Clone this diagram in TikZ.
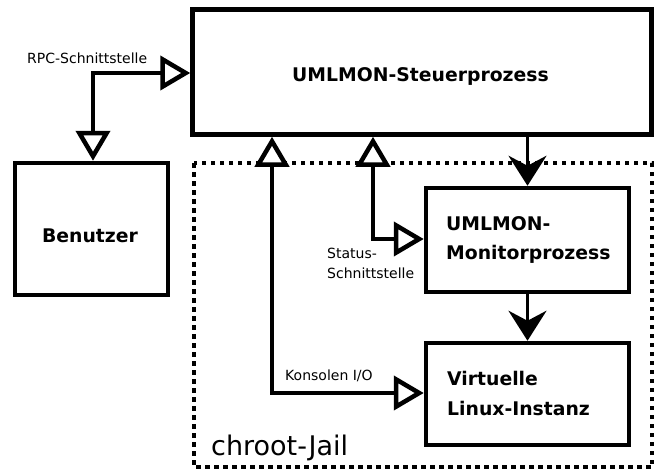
\documentclass[tikz,border=0pt]{standalone}
\usepackage{fontspec}
\setmainfont{DejaVu Sans}
\usetikzlibrary{arrows.meta}
\begin{document}
\begin{tikzpicture}[x=1pt,y=-1pt,
  box/.style={draw,line width=4.5pt,inner sep=0pt},
  bigtext/.style={font=\bfseries\fontsize{18.8}{22}\selectfont,inner sep=0pt},
  smalltext/.style={font=\fontsize{14}{17}\selectfont,inner sep=0pt},
  iface/.style={line width=4.5pt,line join=miter,
     {Triangle[open,fill=white,length=30pt,width=34pt]}-{Triangle[open,fill=white,length=30pt,width=34pt]}},
  flow/.style={line width=3pt,-{Stealth[length=30pt,width=38pt,inset=10pt]}},
  jail/.style={line width=4.5pt,dash pattern=on 4.5pt off 4.5pt}]
\useasboundingbox (0,0) rectangle (656,471);
\fill[white] (0,0) rectangle (656,471);
% chroot jail
\draw[jail] (194,163) rectangle (652,467);
\node[anchor=base west,inner sep=0pt,font=\fontsize{27}{30}\selectfont] (jaillabel) at (211,455) {chroot-Jail};
% boxes
\node[box,minimum width=459pt,minimum height=125pt] (steuer) at (422,72) {};
\node[box,minimum width=153pt,minimum height=132pt] (benutzer) at (91.5,229) {};
\node[box,minimum width=203pt,minimum height=104pt] (monitor) at (527.5,240) {};
\node[box,minimum width=203pt,minimum height=102pt] (virt) at (527.5,394) {};
% box texts
\node[bigtext,anchor=base west] (steuertext) at (292,81) {UMLMON-Steuerprozess};
\node[bigtext,anchor=base] (benutzertext) at (90,242) {Benutzer};
\node[bigtext,anchor=base west] (montext1) at (446,230) {UMLMON-};
\node[bigtext,anchor=base west] (montext2) at (446,259) {Monitorprozess};
\node[bigtext,anchor=base west] (virttext1) at (447,385) {Virtuelle};
\node[bigtext,anchor=base west] (virttext2) at (447,415) {Linux-Instanz};
% connector labels
\node[smalltext,anchor=base west] (rpclabel) at (27,63) {RPC-Schnittstelle};
\node[smalltext,anchor=base west] (statlabel1) at (327,258) {Status-};
\node[smalltext,anchor=base west] (statlabel2) at (327,278) {Schnittstelle};
\node[smalltext,anchor=base west] (konlabel) at (285,380) {Konsolen I/O};
% bends
\coordinate (rpcbend) at (93,73);
\coordinate (statbend) at (373,239);
\coordinate (konbend) at (272,393);
% interface connectors
\draw[iface] (benutzer.north -| rpcbend) -- (rpcbend) -- (rpcbend -| steuer.west);
\draw[iface] (statbend |- steuer.south) -- (statbend) -- (statbend -| monitor.west);
\draw[iface] (konbend |- steuer.south) -- (konbend) -- (konbend -| virt.west);
% flow arrows
\draw[flow] (monitor.north |- steuer.south) -- (monitor.north);
\draw[flow] (monitor.south) -- (virt.north);
\end{tikzpicture}
\end{document}
